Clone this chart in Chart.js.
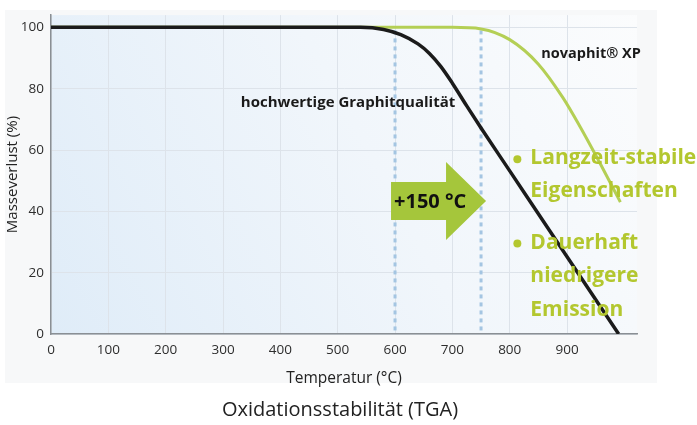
<!DOCTYPE html>
<html>
<head>
<meta charset="utf-8">
<script src="https://cdn.jsdelivr.net/npm/chart.js@4/dist/chart.umd.min.js"></script>
<style>
  html, body { margin: 0; padding: 0; background: #fff; }
  #wrap { width: 697px; height: 425px; }
</style>
</head>
<body>
<div id="wrap"><canvas id="tga"></canvas></div>
<script>
// data
const xTicks = [0, 100, 200, 300, 400, 500, 600, 700, 800, 900];
const yTicks = [0, 20, 40, 60, 80, 100];

const graphitTemps = [0, 540, 580, 610, 640, 660, 680, 700, 725, 750, 800, 900, 990];
const graphitMass = [100, 100, 99.3, 97.6, 94.6, 91.5, 87.2, 81.8, 74.4, 67.2, 53.2, 25.2, 0];

const novaphitTemps = [0, 540, 700, 750, 800, 850, 893, 923, 958, 993];
const novaphitMass = [100, 100, 100, 99.5, 96, 88, 77, 67.5, 55.5, 43];

const markerTemps = [600, 750];   // dotted lines
const shiftLabel = "+150 °C";

const green = "#b3c72f";
const lineGreen = "#b4cf55";

// text annotations (temp, mass, align)
const notes = [
    { text: "hochwertige Graphitqualität", x: 705, y: 75.4, align: "right", color: "#1a1a1a", font: "bold 15px 'Open Sans'" },
    { text: "novaphit® XP", x: 855, y: 91.3, align: "left", color: "#1a1a1a", font: "bold 14.5px 'Open Sans'" },
    { text: "Langzeit-stabile", x: 836, y: 57.3, align: "left", color: green, font: "bold 21px 'Open Sans'", bullet: true },
    { text: "Eigenschaften", x: 836, y: 46.6, align: "left", color: green, font: "bold 21px 'Open Sans'" },
    { text: "Dauerhaft", x: 836, y: 29.8, align: "left", color: green, font: "bold 21px 'Open Sans'", bullet: true },
    { text: "niedrigere", x: 836, y: 18.8, align: "left", color: green, font: "bold 21px 'Open Sans'" },
    { text: "Emission", x: 836, y: 7.8, align: "left", color: green, font: "bold 21px 'Open Sans'" }
];

function toPoints(xs, ys) {
    return xs.map((x, i) => ({ x: x, y: ys[i] }));
}

// background panel + blue plot gradient
const backdrop = {
    id: "backdrop",
    beforeDraw(chart) {
        const ctx = chart.ctx, a = chart.chartArea;
        ctx.save();
        ctx.fillStyle = "#f7f8f9";
        ctx.fillRect(5, 10, 652, 373);
        let g = ctx.createLinearGradient(a.left, a.bottom, a.right, a.top);
        g.addColorStop(0, "#dfecf8");
        g.addColorStop(0.55, "#f1f6fb");
        g.addColorStop(1, "#fbfcfd");
        ctx.fillStyle = g;
        ctx.fillRect(a.left, a.top, a.right - a.left, a.bottom - a.top);
        ctx.restore();
    },
    beforeDatasetsDraw(chart) {
        const ctx = chart.ctx, xs = chart.scales.x, ys = chart.scales.y;
        ctx.save();
        ctx.strokeStyle = "#a4c5e2";
        ctx.lineWidth = 3;
        ctx.setLineDash([4, 4]);
        markerTemps.forEach(t => {
            let px = xs.getPixelForValue(t);
            ctx.beginPath();
            ctx.moveTo(px, ys.getPixelForValue(99));
            ctx.lineTo(px, ys.getPixelForValue(0));
            ctx.stroke();
        });
        ctx.restore();
    },
    afterDatasetsDraw(chart) {
        const ctx = chart.ctx, xs = chart.scales.x, ys = chart.scales.y;
        ctx.save();
        // arrow between the two markers
        let x0 = xs.getPixelForValue(markerTemps[0]) - 4;
        let x2 = xs.getPixelForValue(markerTemps[1]) + 5;
        let cy = ys.getPixelForValue(43.4);
        let x1 = x2 - 40;
        ctx.fillStyle = "#a5c63b";
        ctx.beginPath();
        ctx.moveTo(x0, cy - 19);
        ctx.lineTo(x1, cy - 19);
        ctx.lineTo(x1, cy - 39);
        ctx.lineTo(x2, cy);
        ctx.lineTo(x1, cy + 39);
        ctx.lineTo(x1, cy + 19);
        ctx.lineTo(x0, cy + 19);
        ctx.closePath();
        ctx.fill();
        ctx.fillStyle = "#111";
        ctx.font = "bold 20px 'Open Sans'";
        ctx.textAlign = "left";
        ctx.textBaseline = "middle";
        ctx.fillText(shiftLabel, x0 + 3, cy + 1);

        notes.forEach(n => {
            let px = xs.getPixelForValue(n.x), py = ys.getPixelForValue(n.y);
            ctx.font = n.font;
            ctx.fillStyle = n.color;
            ctx.textAlign = n.align;
            ctx.fillText(n.text, px, py);
            if (n.bullet) {
                ctx.beginPath();
                ctx.arc(px - 13, py + 1, 4, 0, Math.PI * 2);
                ctx.fill();
            }
        });

        // caption
        ctx.font = "20px 'Open Sans'";
        ctx.fillStyle = "#222";
        ctx.textAlign = "center";
        ctx.fillText("Oxidationsstabilität (TGA)", 340, 410);
        ctx.restore();
    }
};

const ctx = document.getElementById("tga").getContext("2d");
const tgaChart = new Chart(ctx, {
    type: "line",
    data: {
        datasets: [{
            label: "novaphit® XP",
            data: toPoints(novaphitTemps, novaphitMass),
            borderColor: lineGreen,
            borderWidth: 3,
            pointRadius: 0,
            cubicInterpolationMode: "monotone",
            order: 2
        }, {
            label: "hochwertige Graphitqualität",
            data: toPoints(graphitTemps, graphitMass),
            borderColor: "#1b1b1b",
            borderWidth: 3.5,
            pointRadius: 0,
            cubicInterpolationMode: "monotone",
            order: 1
        }]
    },
    options: {
        responsive: true,
        maintainAspectRatio: false,
        animation: false,
        events: [],
        layout: {
            padding: { left: 0, right: 60, top: 12, bottom: 33 }
        },
        plugins: {
            legend: { display: false },
            tooltip: { enabled: false }
        },
        scales: {
            x: {
                type: "linear",
                min: 0,
                max: 1022,
                afterBuildTicks: s => { s.ticks = xTicks.map(v => ({ value: v })); },
                afterFit: s => { s.height = 58; },
                grid: { color: "#dde3ea", lineWidth: 1, drawTicks: false },
                border: { color: "#8a8f94", width: 1.5 },
                ticks: { color: "#2e2e2e", font: { family: "Open Sans", size: 13.5 }, padding: 8, maxRotation: 0 },
                title: { display: true, text: "Temperatur (°C)", color: "#222", font: { family: "Open Sans", size: 15.5 }, padding: { top: 0 } }
            },
            y: {
                min: 0,
                max: 104,
                afterBuildTicks: s => { s.ticks = yTicks.map(v => ({ value: v })); },
                afterFit: s => { s.width = 51; },
                grid: { color: "#dde3ea", lineWidth: 1, drawTicks: false },
                border: { color: "#8a8f94", width: 1.5 },
                ticks: { color: "#2e2e2e", font: { family: "Open Sans", size: 13.5 }, padding: 7 },
                title: { display: true, text: "Masseverlust (%)", color: "#222", font: { family: "Open Sans", size: 15 }, padding: { bottom: 0 } }
            }
        }
    },
    plugins: [backdrop]
});
</script>
</body>
</html>
